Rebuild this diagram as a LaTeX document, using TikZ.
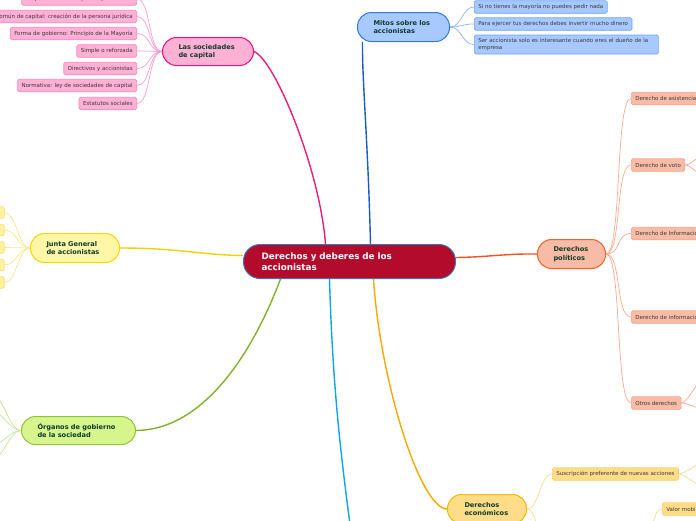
\documentclass[tikz,border=0pt]{standalone}
\usepackage{fontspec}
\setmainfont{DejaVu Sans}
\usetikzlibrary{backgrounds}
\definecolor{crim}{HTML}{B30B2B}
\definecolor{cborder}{HTML}{3A77B0}
\definecolor{ttxt}{HTML}{0E3B2B}
\definecolor{ktxt}{HTML}{3A3A3A}
\definecolor{pkfill}{HTML}{FFB0D5}
\definecolor{pkdraw}{HTML}{E8107A}
\definecolor{pkkid}{HTML}{FF86C2}
\definecolor{pkline}{HTML}{E91E7A}
\definecolor{pklink}{HTML}{FF9CCD}
\definecolor{blfill}{HTML}{A7C9FF}
\definecolor{bldraw}{HTML}{2F7BE0}
\definecolor{blkid}{HTML}{6FA3F0}
\definecolor{blline}{HTML}{1A5BC4}
\definecolor{bllink}{HTML}{8AB4F0}
\definecolor{safill}{HTML}{F8BBA6}
\definecolor{sadraw}{HTML}{F4602C}
\definecolor{sakid}{HTML}{F8A48A}
\definecolor{saline}{HTML}{F4511E}
\definecolor{salink}{HTML}{F9A98E}
\definecolor{gofill}{HTML}{FFDD88}
\definecolor{godraw}{HTML}{F6B800}
\definecolor{gokid}{HTML}{FFCF66}
\definecolor{goline}{HTML}{F9A800}
\definecolor{golink}{HTML}{FFD88A}
\definecolor{yefill}{HTML}{FFF6A8}
\definecolor{yedraw}{HTML}{F2DA00}
\definecolor{yekid}{HTML}{F7E06A}
\definecolor{yekidfill}{HTML}{FFF3A0}
\definecolor{yeline}{HTML}{EED300}
\definecolor{yelink}{HTML}{FAE68A}
\definecolor{grfill}{HTML}{D6F58C}
\definecolor{grdraw}{HTML}{8FC33A}
\definecolor{grline}{HTML}{7FB22A}
\definecolor{grlink}{HTML}{C8E39A}
\definecolor{cyline}{HTML}{0AA6F0}
\begin{document}
\hyphenpenalty=10000
\begin{tikzpicture}[x=1pt,y=-1pt,
  topic/.style={rounded corners=14pt, line width=1pt, font=\bfseries\fontsize{6.6}{8.4}\selectfont, text=ttxt, align=left, inner xsep=16pt, inner ysep=0pt, anchor=north west},
  kid/.style={rounded corners=1.5pt, line width=0.7pt, font=\fontsize{5.5}{7.3}\selectfont, text=ktxt, inner xsep=4pt, inner ysep=0pt, minimum height=12.5pt},
  pkid/.style={kid, fill=pkfill, draw=pkkid, anchor=east},
  bkid/.style={kid, fill=blfill, draw=blkid, anchor=west},
  skid/.style={kid, fill=safill, draw=sakid, anchor=west},
  gkid/.style={kid, fill=gofill, draw=gokid, anchor=west},
  ykid/.style={kid, fill=yekidfill, draw=yekid, anchor=east, minimum width=20pt, minimum height=11.5pt},
  mainlink/.style={line width=1.4pt},
  kidlink/.style={line width=0.7pt}]
\useasboundingbox (0,0) rectangle (696,520);
\clip (0,0) rectangle (696,520);

% central topic
\node[rounded corners=16.5pt, fill=crim, draw=cborder, line width=1pt, text=white,
  font=\bfseries\fontsize{8.8}{11}\selectfont, align=left, text width=176pt,
  inner xsep=18pt, inner ysep=0pt, minimum height=34pt, anchor=north west]
  (c) at (243,244) {Derechos y deberes de los\\accionistas};

% main topics
\node[topic, fill=pkfill, draw=pkdraw, text width=59pt, minimum height=28pt] (soc) at (162,37) {Las sociedades\\de capital};
\node[topic, fill=blfill, draw=bldraw, text width=60pt, minimum height=29pt] (mitos) at (357,12) {Mitos sobre los\\accionistas};
\node[topic, fill=safill, draw=sadraw, text width=36pt, minimum height=29pt] (dp) at (537,239) {Derechos\\políticos};
\node[topic, fill=gofill, draw=godraw, text width=45pt, inner xsep=17pt, minimum height=29pt] (de) at (447,494) {Derechos\\económicos};
\node[topic, fill=yefill, draw=yedraw, text width=57pt, minimum height=29pt] (junta) at (30,233) {Junta General\\de accionistas};
\node[topic, fill=grfill, draw=grdraw, text width=82pt, minimum height=28pt] (org) at (21,416) {Órganos de gobierno\\de la sociedad};

% Las sociedades de capital: children
\node[pkid] (p1) at (137,-1) {Requisitos formales pactos para socios};
\node[pkid] (p2) at (137,16.5) {Fondo común de capital: creación de la persona jurídica};
\node[pkid] (p3) at (137,33.5) {Forma de gobierno: Principio de la Mayoría};
\node[pkid] (p4) at (137,51) {Simple o reforzada};
\node[pkid] (p5) at (137,68.5) {Directivos y accionistas};
\node[pkid] (p6) at (137,85.5) {Normativa: ley de sociedades de capital};
\node[pkid] (p7) at (137,103.5) {Estatutos sociales};

% Mitos: children
\node[bkid] (m1) at (474,7) {Si no tienes la mayoría no puedes pedir nada};
\node[bkid] (m2) at (474,24) {Para ejercer tus derechos debes invertir mucho dinero};
\node[bkid, text width=176pt, align=left, minimum height=19pt] (m3) at (474,44.5) {Ser accionista solo es interesante cuando eres el dueño de la\\empresa};

% Derechos politicos: children
\node[skid] (s1) at (631,98.5) {Derecho de asistencia};
\node[skid] (s2) at (631,165) {Derecho de voto};
\node[skid] (s3) at (631,233.5) {Derecho de Información};
\node[skid] (s4) at (631,317) {Derecho de información};
\node[skid] (s5) at (631,403) {Otros derechos};

% Derechos economicos: children
\node[gkid] (g1) at (552,474) {Suscripción preferente de nuevas acciones};
\node[gkid] (g2) at (662,509) {Valor mobiliario};

% Junta General: children (cut at the left edge)
\node[ykid] (j1) at (4.5,212.5) {};
\node[ykid] (j2) at (4.5,230) {};
\node[ykid] (j3) at (4.5,247.5) {};
\node[ykid] (j4) at (4.5,265) {};
\node[ykid] (j5) at (4.5,282.5) {};

% free ends outside the frame
\coordinate (cyend) at (352,540);
\coordinate (de2) at (552,560);
\coordinate (gpar) at (641,550);
\coordinate (v1) at (705,154);
\coordinate (v2) at (705,177);
\coordinate (o1) at (704,378);
\coordinate (o2) at (706,410);
\coordinate (u1) at (705,461);
\coordinate (u2) at (705,488);
\coordinate (r1) at (-10,392);
\coordinate (r2) at (-10,410);
\coordinate (r3) at (-10,446);
\coordinate (r4) at (-10,462);

\begin{pgfonlayer}{background}
\clip (0,0) rectangle (696,520);
% main connectors
\draw[mainlink, pkline] ([xshift=-24pt]c.north) .. controls (320,170) and (275,60) .. (soc.east);
\draw[mainlink, blline] ([xshift=21pt]c.north) .. controls (368,140) and (362,80) .. ([xshift=-41pt]mitos.south);
\draw[mainlink, saline] ([yshift=4pt]c.east) .. controls (490,257) and (505,253.5) .. (dp.west);
\draw[mainlink, goline] ([xshift=24pt]c.south) .. controls (380,380) and (420,508.5) .. (de.west);
\draw[mainlink, grline] ([xshift=-69pt]c.south) .. controls (250,360) and (200,430) .. (org.east);
\draw[mainlink, cyline] ([xshift=-20pt]c.south) .. controls (333,400) and (343,470) .. (cyend);
\draw[mainlink, yeline] (junta.east) .. controls (180,248) and (200,255) .. ([yshift=6pt]c.west);

% children connectors
\foreach \k in {p1,p2,p3,p4,p5,p6,p7}
  \draw[kidlink, pklink] (soc.west) .. controls +(-14,0) and +(14,0) .. (\k.east);
\foreach \k in {m1,m2,m3}
  \draw[kidlink, bllink] (mitos.east) .. controls +(12,0) and +(-12,0) .. (\k.west);
\foreach \k in {s1,s2,s3,s4,s5}
  \draw[kidlink, salink] (dp.east) .. controls +(16,0) and +(-16,0) .. (\k.west);
\draw[kidlink, golink] (de.east) .. controls +(12,0) and +(-12,0) .. (g1.west);
\draw[kidlink, golink] (de.east) .. controls +(12,0) and +(-12,0) .. (de2);
\draw[kidlink, golink] (gpar) .. controls +(12,0) and +(-12,0) .. (g2.west);
\foreach \k in {j1,j2,j3,j4,j5}
  \draw[kidlink, yelink] (junta.west) .. controls +(-12,0) and +(12,0) .. (\k.east);
\foreach \k in {r1,r2,r3,r4}
  \draw[kidlink, grlink] (org.west) .. controls +(-12,0) and +(12,0) .. (\k);
\foreach \k in {v1,v2}
  \draw[kidlink, salink] (s2.east) .. controls +(6,0) and +(-5,0) .. (\k);
\foreach \k in {o1,o2}
  \draw[kidlink, salink] (s5.east) .. controls +(6,0) and +(-5,0) .. (\k);
\foreach \k in {u1,u2}
  \draw[kidlink, golink] (g1.east) .. controls +(6,0) and +(-5,0) .. (\k);
\end{pgfonlayer}
\end{tikzpicture}
\end{document}
